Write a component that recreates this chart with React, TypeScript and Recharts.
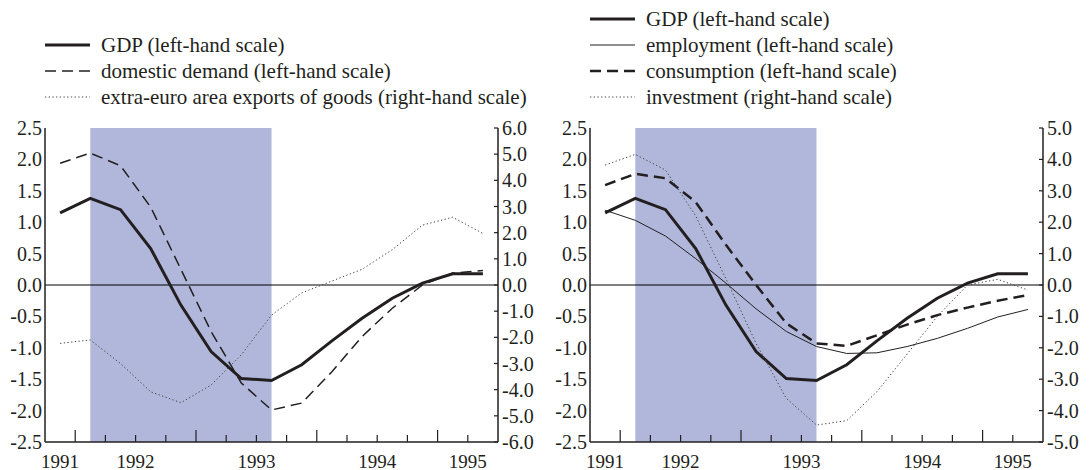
import { ComposedChart, Line, XAxis, YAxis, ReferenceArea, ReferenceLine, Legend } from 'recharts';

// quarterly data, 1991 Q4 - 1995 Q2
const periods = [
  '1991Q4', '1992Q1', '1992Q2', '1992Q3', '1992Q4', '1993Q1', '1993Q2', '1993Q3',
  '1993Q4', '1994Q1', '1994Q2', '1994Q3', '1994Q4', '1995Q1', '1995Q2'
];
const yearLabels = ['1991', '1992', '1993', '1994', '1995'];
const recession = ['1992Q1', '1993Q3'];

const gdp = [1.15, 1.38, 1.2, 0.58, -0.32, -1.06, -1.49, -1.52, -1.27, -0.89, -0.53, -0.21, 0.03, 0.18, 0.18];
const domesticDemand = [1.94, 2.1, 1.9, 1.24, 0.25, -0.74, -1.56, -1.99, -1.88, -1.38, -0.82, -0.37, 0.0, 0.19, 0.23];
const extraEuroExports = [-2.23, -2.1, -3.0, -4.08, -4.5, -3.82, -2.67, -1.15, -0.3, 0.15, 0.6, 1.35, 2.29, 2.59, 1.97];
const employment = [1.19, 1.03, 0.78, 0.42, 0.03, -0.38, -0.74, -0.98, -1.09, -1.08, -0.98, -0.85, -0.69, -0.51, -0.39];
const consumption = [1.59, 1.77, 1.7, 1.32, 0.64, 0.0, -0.61, -0.93, -0.97, -0.8, -0.63, -0.48, -0.36, -0.25, -0.16];
const investment = [3.82, 4.16, 3.66, 2.2, 0.2, -1.86, -3.61, -4.46, -4.32, -3.4, -2.2, -1.0, 0.0, 0.18, -0.16];

const leftTicks = [-2.5, -2.0, -1.5, -1.0, -0.5, 0.0, 0.5, 1.0, 1.5, 2.0, 2.5];
const rightTicksA = [-6, -5, -4, -3, -2, -1, 0, 1, 2, 3, 4, 5, 6];
const rightTicksB = [-5, -4, -3, -2, -1, 0, 1, 2, 3, 4, 5];

const INK = '#231f20';
const SHADE = '#b0b7da';
const FONT = "'Liberation Serif', 'Times New Roman', Times, 'DejaVu Serif', serif";

const qStart = (p: string) => Number(p.slice(0, 4)) + (Number(p.slice(5)) - 1) / 4;
const qMid = (p: string) => qStart(p) + 0.125;

const domainX: [number, number] = [qStart(periods[0]), qStart(periods[periods.length - 1]) + 0.25];
const boundaries = periods.slice(1).map(qStart);
const yearPos = yearLabels.map((y) => {
  const a = Math.max(Number(y), domainX[0]);
  const b = Math.min(Number(y) + 1, domainX[1]);
  return { label: y, pos: (a + b) / 2 };
});
const keyOf = (v: number) => Math.round(v * 1000);
const xTicks = Array.from(new Set([...boundaries, ...yearPos.map((d) => d.pos)].map(keyOf)))
  .sort((a, b) => a - b)
  .map((k) => k / 1000);

const data = periods.map((p, i) => ({
  t: qMid(p),
  gdp: gdp[i],
  domesticDemand: domesticDemand[i],
  extraEuroExports: extraEuroExports[i],
  employment: employment[i],
  consumption: consumption[i],
  investment: investment[i]
}));

interface SeriesCfg {
  key: string;
  name: string;
  axis: 'left' | 'right';
  width: number;
  dash?: string;
  color?: string;
}

const panelA: SeriesCfg[] = [
  { key: 'gdp', name: 'GDP (left-hand scale)', axis: 'left', width: 3 },
  { key: 'domesticDemand', name: 'domestic demand (left-hand scale)', axis: 'left', width: 1.5, dash: '11 6' },
  { key: 'extraEuroExports', name: 'extra-euro area exports of goods (right-hand scale)', axis: 'right', width: 1, dash: '1.3 2.4', color: '#444' }
];

const panelB: SeriesCfg[] = [
  { key: 'gdp', name: 'GDP (left-hand scale)', axis: 'left', width: 3 },
  { key: 'employment', name: 'employment (left-hand scale)', axis: 'left', width: 1 },
  { key: 'consumption', name: 'consumption (left-hand scale)', axis: 'left', width: 2.5, dash: '11 6' },
  { key: 'investment', name: 'investment (right-hand scale)', axis: 'right', width: 1, dash: '1.3 2.4', color: '#444' }
];

const textStyle = { fontFamily: FONT };

const XTick = ({ x, y, payload }: any) => {
  const v = payload.value;
  const isBoundary = boundaries.some((b) => keyOf(b) === keyOf(v));
  const lab = yearPos.find((d) => keyOf(d.pos) === keyOf(v));
  const long = Number.isInteger(v);
  return (
    <g>
      {isBoundary && <line x1={x} x2={x} y1={y} y2={y - (long ? 12 : 7)} stroke={INK} strokeWidth={1.2} />}
      {lab && (
        <text x={x} y={y + 19} textAnchor="middle" dominantBaseline="central" fill={INK} fontSize={19} style={textStyle}>
          {lab.label}
        </text>
      )}
    </g>
  );
};

const LeftTick = ({ x, y, payload }: any) => (
  <text x={x} y={y} textAnchor="end" dominantBaseline="central" fill={INK} fontSize={20} style={textStyle}>
    {payload.value.toFixed(1)}
  </text>
);

const RightTick = ({ x, y, payload }: any) => (
  <g>
    <line x1={x - 4} x2={x - 8} y1={y} y2={y} stroke={INK} strokeWidth={1.2} />
    <text x={x} y={y} textAnchor="start" dominantBaseline="central" fill={INK} fontSize={20} style={textStyle}>
      {payload.value.toFixed(1)}
    </text>
  </g>
);

const LegendBox = ({ series, width }: { series: SeriesCfg[]; width: number }) => {
  const lastY = 97;
  const step = 26;
  return (
    <svg width={width} height={115}>
      {series.map((s, i) => {
        const y = lastY - (series.length - 1 - i) * step;
        return (
          <g key={s.key}>
            <line x1={45} x2={90} y1={y} y2={y} stroke={s.color || INK} strokeWidth={s.width} strokeDasharray={s.dash} />
            <text x={101} y={y} dominantBaseline="central" fill={INK} fontSize={21} style={textStyle}>
              {s.name}
            </text>
          </g>
        );
      })}
    </svg>
  );
};

interface PanelProps {
  series: SeriesCfg[];
  rightTicks: number[];
  width: number;
  rightWidth: number;
}

const Panel = ({ series, rightTicks, width, rightWidth }: PanelProps) => (
  <ComposedChart width={width} height={470} data={data} margin={{ top: 128, right: 0, bottom: 0, left: 0 }}>
    <Legend
      layout="vertical"
      align="center"
      verticalAlign="middle"
      wrapperStyle={{ top: 0, left: 0, width, height: 115 }}
      content={() => <LegendBox series={series} width={width} />}
    />
    <ReferenceArea
      x1={qMid(recession[0])}
      x2={qMid(recession[1])}
      yAxisId="left"
      fill={SHADE}
      fillOpacity={1}
      stroke="none"
    />
    <XAxis
      type="number"
      dataKey="t"
      domain={domainX}
      ticks={xTicks}
      interval={0}
      height={28}
      tickSize={0}
      tickMargin={0}
      axisLine={{ stroke: INK, strokeWidth: 1.5 }}
      tickLine={false}
      tick={<XTick />}
    />
    <YAxis
      yAxisId="left"
      orientation="left"
      width={45}
      domain={[-2.5, 2.5]}
      ticks={leftTicks}
      interval={0}
      tickSize={0}
      tickMargin={3}
      axisLine={{ stroke: INK, strokeWidth: 1.5 }}
      tickLine={false}
      tick={<LeftTick />}
    />
    <YAxis
      yAxisId="right"
      orientation="right"
      width={rightWidth}
      domain={[rightTicks[0], rightTicks[rightTicks.length - 1]]}
      ticks={rightTicks}
      interval={0}
      tickSize={0}
      tickMargin={4}
      axisLine={{ stroke: INK, strokeWidth: 1.5 }}
      tickLine={false}
      tick={<RightTick />}
    />
    <ReferenceLine y={0} yAxisId="left" stroke="#000" strokeWidth={1} />
    {series.map((s) => (
      <Line
        key={s.key}
        yAxisId={s.axis}
        type="linear"
        dataKey={s.key}
        name={s.name}
        stroke={s.color || INK}
        strokeWidth={s.width}
        strokeDasharray={s.dash}
        dot={false}
        activeDot={false}
        isAnimationActive={false}
      />
    ))}
  </ComposedChart>
);

export default function App() {
  return (
    <div style={{ position: 'absolute', left: 0, top: 0, width: 1091, height: 470, background: '#fff', fontFamily: FONT }}>
      <div style={{ position: 'absolute', left: 0, top: 0 }}>
        <Panel series={panelA} rightTicks={rightTicksA} width={545} rightWidth={47} />
      </div>
      <div style={{ position: 'absolute', left: 545, top: 0 }}>
        <Panel series={panelB} rightTicks={rightTicksB} width={546} rightWidth={48} />
      </div>
    </div>
  );
}
